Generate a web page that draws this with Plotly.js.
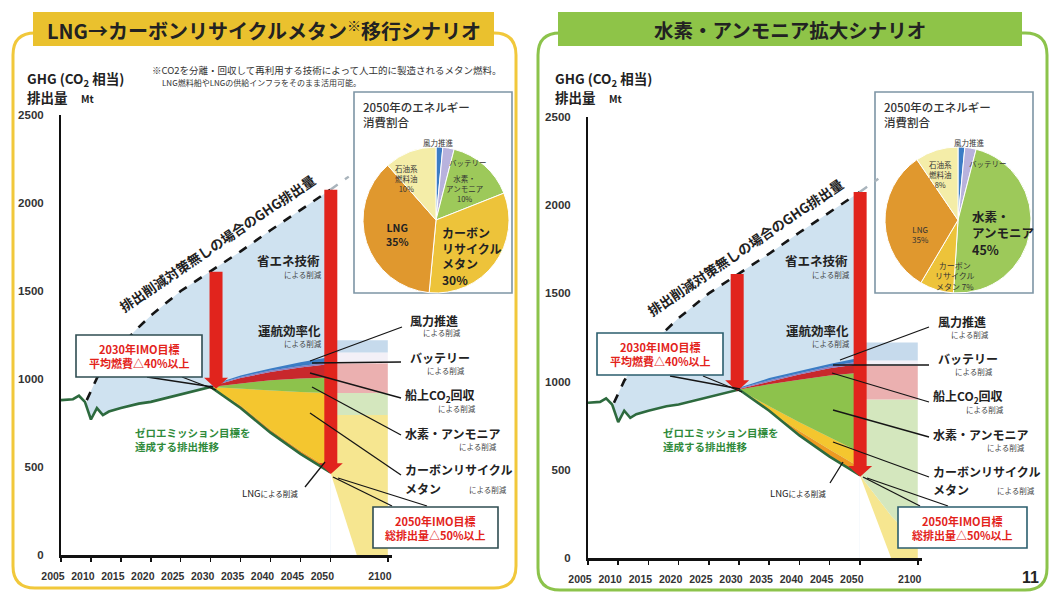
<!DOCTYPE html>
<html><head><meta charset="utf-8">
<script src="https://cdn.plot.ly/plotly-3.0.1.min.js"></script>
<style>html,body{margin:0;padding:0;background:#fff;}#chart{width:1053px;height:594px;}</style>
</head><body><div id="chart"></div>
<script>
// ================= DATA =================
// Emission path that achieves zero-emission target (dark green line), Mt CO2e
const baseYears  = [2005,2007,2008,2009,2010,2011,2012,2013,2015,2018,2020,2023,2025,2027,2030,2035,2040,2045,2050];
const baseValues = [880, 885, 905, 870, 770, 835, 795, 815, 835, 860, 870, 895, 910, 928, 955, 835, 695, 575, 470];
// GHG emissions without reduction measures (dashed)
const bauYears  = [2009.3,2011,2013,2015,2018,2020,2025,2030,2035,2040,2045,2050];
const bauValues = [880,  1005,1110,1190,1295,1360,1500,1610,1725,1845,1960,2075];
const bauExtYears  = [2050, 2066];
const bauExtValues = [2075, 2150];
// Reduction wedges (upper boundary of each layer), 2030-2050
const layerYears = [2030, 2035, 2040, 2045, 2050];
// Left: LNG -> carbon recycle methane scenario
const lngTopL  = [955, 850, 712, 592, 488];
const crmTopL  = [955, 945, 937, 926, 920];
const h2TopL   = [955, 975, 993, 1003, 1008];
const co2TopL  = [958, 1005, 1040, 1065, 1085];
const batTopL  = [962, 1012, 1048, 1074, 1095];
const windTopL = [965, 1020, 1060, 1095, 1125];
// Right: hydrogen / ammonia scenario
const lngTopR  = [955, 830, 720, 615, 515];
const crmTopR  = [955, 860, 770, 685, 600];
const h2TopR   = [955, 985, 1010, 1035, 1050];
const co2TopR  = [958, 1000, 1040, 1075, 1100];
const batTopR  = [961, 1008, 1048, 1085, 1115];
const windTopR = [965, 1020, 1060, 1100, 1135];
// 2050 -> 2100 outlook (faded bands)
const stripYearsL = [2050, 2073, 2100];
const stripBaseL  = [470, 0, 0];
const stripCrmL   = [795, 795, 795];
const stripH2L    = [920, 920, 920];
const stripCo2L   = [1090, 1090, 1090];
const stripBatL   = [1150, 1150, 1150];
const stripWindL  = [1220, 1220, 1220];
const stripYearsR = [2050, 2077, 2100];
const stripBaseR  = [470, 0, 0];
const stripCrmR   = [470, 240, 85];
const stripH2R    = [898, 898, 898];
const stripCo2R   = [1091, 1091, 1091];
const stripBatR   = [1119, 1119, 1119];
const stripWindR  = [1222, 1222, 1222];
// 2050 energy consumption share (pie)
const pieLabels = ['風力推進','バッテリー','水素・アンモニア','カーボンリサイクルメタン','LNG','石油系燃料油'];
const pieValuesL = [1.5, 2.5, 15, 32.5, 37, 11.5];
const pieValuesR = [1.5, 2.5, 47, 7.5, 32, 9.5];
// Axis ticks
const xTickYears = [2005,2010,2015,2020,2025,2030,2035,2040,2045,2050,2100];
const xTickText  = ['2005','2010','2015','2020','2025','2030','2035','2040','2045','2050','2100'];
const yTickVals  = [0,500,1000,1500,2000,2500];
const yTickText  = ['0','500','1000','1500','2000','2500'];

// ================= HELPERS =================
const W = 1053, H = 594;
const px = x => x / W, py = y => 1 - y / H;
const JP = '"Noto Sans CJK JP", "Noto Sans", sans-serif';
const NUM = '"Liberation Sans", Arial, sans-serif';
// broken axis: 2005-2050 linear, 2050-2100 compressed
const BREAK = 2050, POS2100 = 2059.6;
const xpos = yr => yr <= BREAK ? yr : BREAK + (yr - BREAK) * (POS2100 - BREAK) / 50;
const valAt = (years, vals, yr) => vals[years.indexOf(yr)];

const C = {
  lightBlue: '#CFE2F0', lng: '#EE9A22', crm: '#F4C62F', h2: '#8DC24C', co2: '#C8282C',
  bat: '#8B7EC2', wind: '#3B7CC5', line: '#2D6A3E',
  sLng: '#F6E690', sH2: '#D4E7BE', sCo2: '#EBB0B0', sBat: '#F3F0F7', sWind: '#C6DAEC',
  red: '#E1241D'
};

function area(x, y, fill, color, xa, ya) {
  return {type: 'scatter', mode: 'lines', x: x.map(xpos), y: y, xaxis: xa, yaxis: ya,
    line: {width: 0, color: color}, fill: fill, fillcolor: color,
    hoverinfo: 'skip', showlegend: false};
}
function lineTr(x, y, color, width, dash, xa, ya) {
  return {type: 'scatter', mode: 'lines', x: x.map(xpos), y: y, xaxis: xa, yaxis: ya,
    line: {width: width, color: color, dash: dash}, hoverinfo: 'skip', showlegend: false};
}
function chartTraces(xa, ya, L, S) {
  const baseSeg = layerYears.map(y => valAt(baseYears, baseValues, y));
  return [
    area(bauYears, bauValues, 'tozeroy', C.lightBlue, xa, ya),
    area(baseYears, baseValues, 'tozeroy', '#ffffff', xa, ya),
    area(layerYears, baseSeg, 'none', 'rgba(0,0,0,0)', xa, ya),
    area(layerYears, L.lng, 'tonexty', C.lng, xa, ya),
    area(layerYears, L.crm, 'tonexty', C.crm, xa, ya),
    area(layerYears, L.h2, 'tonexty', C.h2, xa, ya),
    area(layerYears, L.co2, 'tonexty', C.co2, xa, ya),
    area(layerYears, L.bat, 'tonexty', C.bat, xa, ya),
    area(layerYears, L.wind, 'tonexty', C.wind, xa, ya),
    area(S.years, S.base, 'none', 'rgba(0,0,0,0)', xa, ya),
    area(S.years, S.crm, 'tonexty', C.sLng, xa, ya),
    area(S.years, S.h2, 'tonexty', C.sH2, xa, ya),
    area(S.years, S.co2, 'tonexty', C.sCo2, xa, ya),
    area(S.years, S.bat, 'tonexty', C.sBat, xa, ya),
    area(S.years, S.wind, 'tonexty', C.sWind, xa, ya),
    lineTr(bauYears, bauValues, '#151515', 2.6, 'dash', xa, ya),
    lineTr(bauExtYears, bauExtValues, '#A9B4BC', 2.4, 'dash', xa, ya),
    lineTr(baseYears, baseValues, C.line, 2.6, 'solid', xa, ya)
  ];
}
const pieColors = [C.wind, '#B8B2DD', '#9DC95A', '#EDC33A', '#E0982E', '#F4EDA8'];
function pie(values, cx, cy, r) {
  return {type: 'pie', values: values, labels: pieLabels, sort: false, direction: 'clockwise',
    rotation: 0, textinfo: 'none', hoverinfo: 'skip', showlegend: false,
    marker: {colors: pieColors, line: {color: '#ffffff', width: 1}},
    domain: {x: [px(cx - r), px(cx + r)], y: [py(cy + r), py(cy - r)]}};
}

const traces = [].concat(
  chartTraces('x', 'y', {lng: lngTopL, crm: crmTopL, h2: h2TopL, co2: co2TopL, bat: batTopL, wind: windTopL},
    {years: stripYearsL, base: stripBaseL, crm: stripCrmL, h2: stripH2L, co2: stripCo2L, bat: stripBatL, wind: stripWindL}),
  chartTraces('x2', 'y2', {lng: lngTopR, crm: crmTopR, h2: h2TopR, co2: co2TopR, bat: batTopR, wind: windTopR},
    {years: stripYearsR, base: stripBaseR, crm: stripCrmR, h2: stripH2R, co2: stripCo2R, bat: stripBatR, wind: stripWindR}),
  [pie(pieValuesL, 436, 220, 73), pie(pieValuesR, 958, 220, 73)]
);

// ================= AXES =================
function xAxis(d0, d1, anchor) {
  return {domain: [px(d0), px(d1)], range: [2005, 2060.3], anchor: anchor,
    tickvals: xTickYears.map(xpos), ticktext: xTickText, ticks: 'outside', ticklen: 4, tickwidth: 1.5,
    tickcolor: '#111', showline: true, linecolor: '#111', linewidth: 2.5, showgrid: false, zeroline: false,
    ticklabelstandoff: 6, ticklabelshift: -8,
    tickfont: {family: NUM, size: 10.5, color: '#333', weight: 700}, fixedrange: true};
}
function yAxis(y0, y1, anchor) {
  return {domain: [py(y0), py(y1)], range: [0, 2500], anchor: anchor,
    tickvals: yTickVals, ticktext: yTickText, ticks: '', showline: true, linecolor: '#111', linewidth: 2,
    showgrid: false, zeroline: false, ticklabelstandoff: 13,
    tickfont: {family: NUM, size: 11.5, color: '#333', weight: 700}, fixedrange: true};
}

// ================= SHAPES =================
function roundRect(x0, y0, x1, y1, r) {
  const X = px, Y = py;
  return `M ${X(x0 + r)},${Y(y0)} L ${X(x1 - r)},${Y(y0)} Q ${X(x1)},${Y(y0)} ${X(x1)},${Y(y0 + r)} ` +
    `L ${X(x1)},${Y(y1 - r)} Q ${X(x1)},${Y(y1)} ${X(x1 - r)},${Y(y1)} L ${X(x0 + r)},${Y(y1)} ` +
    `Q ${X(x0)},${Y(y1)} ${X(x0)},${Y(y1 - r)} L ${X(x0)},${Y(y0 + r)} Q ${X(x0)},${Y(y0)} ${X(x0 + r)},${Y(y0)} Z`;
}
function rect(x0, y0, x1, y1, fill, lineColor, lw, layer) {
  return {type: 'rect', xref: 'paper', yref: 'paper', x0: px(x0), x1: px(x1), y0: py(y1), y1: py(y0),
    fillcolor: fill, line: {color: lineColor, width: lw}, layer: layer || 'above'};
}
function seg(x0, y0, x1, y1, color, w) {
  return {type: 'line', xref: 'paper', yref: 'paper', x0: px(x0), y0: py(y0), x1: px(x1), y1: py(y1),
    line: {color: color || '#151515', width: w || 1.3}, layer: 'above'};
}
function arrow(xa, ya, anchorX, year) {
  const top = valAt(bauYears, bauValues, year);
  const tip = valAt(baseYears, baseValues, year) - 10;
  const hb = tip + 62;
  return {type: 'path', xref: xa, yref: ya, xsizemode: 'pixel', xanchor: xpos(anchorX),
    path: `M -6.5,${top} L 6.5,${top} L 6.5,${hb} L 12,${hb} L 0,${tip} L -12,${hb} L -6.5,${hb} Z`,
    fillcolor: C.red, line: {width: 0}, layer: 'above'};
}

const shapes = [
  // panel borders and title banners
  {type: 'path', xref: 'paper', yref: 'paper', path: roundRect(13, 33, 516, 588, 22), line: {color: '#F1C83B', width: 3}, fillcolor: 'rgba(0,0,0,0)', layer: 'below'},
  {type: 'path', xref: 'paper', yref: 'paper', path: roundRect(538, 33, 1047, 590, 22), line: {color: '#8CC34B', width: 3}, fillcolor: 'rgba(0,0,0,0)', layer: 'below'},
  rect(33, 12, 494, 46, '#EAC12E', '#EAC12E', 0, 'below'),
  rect(558, 12, 1022, 46, '#8EC448', '#8EC448', 0, 'below'),
  // pie boxes
  rect(354, 92, 512, 293, '#ffffff', '#7D95A5', 1.6, 'below'),
  rect(875, 92, 1033, 293, '#ffffff', '#7D95A5', 1.6, 'below'),
  // red arrows
  arrow('x', 'y', 2030.9, 2030), arrow('x', 'y', 2050.4, 2050),
  arrow('x2', 'y2', 2029.7, 2030), arrow('x2', 'y2', 2050.3, 2050),
  // leader lines left
  seg(402, 327, 310, 361), seg(401, 362, 312, 363), seg(401, 398, 310, 373),
  seg(401, 435, 312, 387), seg(401, 475, 310, 413),
  seg(305, 487, 325, 462), seg(333, 477, 392, 506), seg(338, 478, 427, 506),
  seg(147, 377, 213, 387), seg(182, 377, 216, 390),
  // leader lines right
  seg(929, 327, 840, 360), seg(929, 365, 833, 365), seg(929, 402, 832, 373),
  seg(929, 437, 833, 410), seg(929, 477, 833, 442),
  seg(830, 483, 843, 462), seg(863, 477, 920, 506), seg(867, 478, 948, 506),
  seg(670, 376, 740, 389), seg(703, 376, 742, 392),
  // IMO target boxes
  rect(76, 335, 202, 377, '#ffffff', '#2F4D52', 1.6),
  rect(373, 507, 498, 548, '#ffffff', '#2F4D52', 1.6),
  rect(597, 333, 723, 375, '#ffffff', '#2B5E6E', 1.6),
  rect(898, 507, 1027, 548, '#ffffff', '#2B5E6E', 1.6)
];

// ================= TEXT =================
function T(text, x, y, size, o) {
  o = o || {};
  return {text: text, x: px(x), y: py(y), xref: 'paper', yref: 'paper', showarrow: false,
    xanchor: o.xa || 'center', yanchor: 'middle', align: o.align || (o.xa === 'left' ? 'left' : 'center'),
    textangle: o.angle || 0,
    font: {family: o.family || JP, size: size, color: o.color || '#222', weight: o.weight === undefined ? 700 : o.weight}};
}
const note = '#444';
const ann = [];
function sideLabels(dx, dy) {
  ann.push(
    T('風力推進', 408 + dx, 320 + dy, 12, {xa: 'left'}), T('による削減', 442 + dx, 333 + dy, 7.5, {weight: 400, color: note}),
    T('バッテリー', 408 + dx, 357 + dy, 12, {xa: 'left'}), T('による削減', 446 + dx, 370 + dy, 7.5, {weight: 400, color: note}),
    T('船上CO<sub>2</sub>回収', 403 + dx, 395 + dy, 12, {xa: 'left'}), T('による削減', 457 + dx, 408 + dy, 7.5, {weight: 400, color: note}),
    T('水素・アンモニア', 403 + dx, 433 + dy, 12, {xa: 'left'}), T('による削減', 478 + dx, 446 + dy, 7.5, {weight: 400, color: note}),
    T('カーボンリサイクル', 403 + dx, 470 + dy, 12, {xa: 'left'}), T('メタン', 403 + dx, 488 + dy, 12, {xa: 'left'}),
    T('による削減', 488 + dx, 489 + dy, 7.5, {weight: 400, color: note})
  );
}
function chartLabels(dx, bauX, bauY) {
  ann.push(
    T('GHG (CO<sub>2</sub> 相当)', 25 + dx, 79, 13.5, {xa: 'left'}),
    T('排出量　<span style="font-size:10px">Mt</span>', 25 + dx, 97, 13.5, {xa: 'left'}),
    T('排出削減対策無しの場合のGHG排出量', bauX, bauY, 13.5, {angle: -34}),
    T('省エネ技術', 288 + dx, 260, 12.5), T('による削減', 303 + dx, 274, 7.5, {weight: 400, color: note}),
    T('運航効率化', 289 + dx, 330, 12.5), T('による削減', 303 + dx, 343, 7.5, {weight: 400, color: note}),
    T('ゼロエミッション目標を<br>達成する排出推移', 133 + dx, 439, 10.5, {xa: 'left', color: '#2F8A3A'}),
    T('LNG<span style="font-size:7.5px;font-weight:400">による削減</span>', 270 + dx, 493, 9.5, {weight: 400})
  );
}
chartLabels(0, 217, 243);
chartLabels(528, 745, 247);
sideLabels(0, 0);
sideLabels(528, 1);
ann.push(
  // banners
  T('LNG→カーボンリサイクルメタン<sup>※</sup>移行シナリオ', 264, 30, 20),
  T('水素・アンモニア拡大シナリオ', 790, 30, 19.5),
  // footnote
  T('※CO2を分離・回収して再利用する技術によって人工的に製造されるメタン燃料。', 150, 70, 9.5, {xa: 'left', weight: 400, color: '#333'}),
  T('LNG燃料船やLNGの供給インフラをそのまま活用可能。', 160, 83, 8, {xa: 'left', weight: 400, color: '#333'}),
  // IMO boxes
  T('2030年IMO目標<br>平均燃費△40%以上', 139, 356, 11, {color: '#E3231B'}),
  T('2050年IMO目標<br>総排出量△50%以上', 435, 528, 11, {color: '#E3231B'}),
  T('2030年IMO目標<br>平均燃費△40%以上', 660, 354, 11, {color: '#E3231B'}),
  T('2050年IMO目標<br>総排出量△50%以上', 962, 528, 11, {color: '#E3231B'}),
  // pie box left
  T('2050年のエネルギー<br>消費割合', 361, 115, 11.5, {xa: 'left', weight: 500, color: '#333'}),
  T('風力推進', 438, 143, 7.5, {weight: 400, color: '#333'}),
  T('バッテリー', 468, 162, 7.5, {weight: 400, color: '#333'}),
  T('水素・<br>アンモニア<br>10%', 464, 188, 7.5, {weight: 400, color: '#333'}),
  T('石油系<br>燃料油<br>10%', 406, 178, 7.5, {weight: 400, color: '#333'}),
  T('LNG<br>35%', 397, 235, 10.5, {color: '#222'}),
  T('カーボン<br>リサイクル<br>メタン<br>30%', 440, 256, 12, {xa: 'left', color: '#222'}),
  // pie box right
  T('2050年のエネルギー<br>消費割合', 882, 115, 11.5, {xa: 'left', weight: 500, color: '#333'}),
  T('風力推進', 969, 143, 7.5, {weight: 400, color: '#333'}),
  T('バッテリー', 988, 163, 7.5, {weight: 400, color: '#333'}),
  T('石油系<br>燃料油<br>8%', 940, 175, 7.5, {weight: 400, color: '#333'}),
  T('LNG<br>35%', 920, 234, 8, {weight: 400, color: '#333'}),
  T('水素・<br>アンモニア<br>45%', 970, 233, 12.5, {xa: 'left', color: '#222'}),
  T('カーボン<br>リサイクル<br>メタン 7%', 955, 276, 8, {weight: 400, color: '#333'}),
  // page number
  T('11', 1030, 577, 16, {family: NUM})
);

const layout = {
  width: W, height: H, margin: {l: 0, r: 0, t: 0, b: 0},
  paper_bgcolor: '#ffffff', plot_bgcolor: 'rgba(0,0,0,0)', showlegend: false,
  xaxis: xAxis(61, 392, 'y'), yaxis: yAxis(555, 115, 'x'),
  xaxis2: xAxis(588, 922, 'y2'), yaxis2: yAxis(558, 117, 'x2'),
  shapes: shapes, annotations: ann
};
Plotly.newPlot('chart', traces, layout, {displayModeBar: false, staticPlot: true});
</script></body></html>
